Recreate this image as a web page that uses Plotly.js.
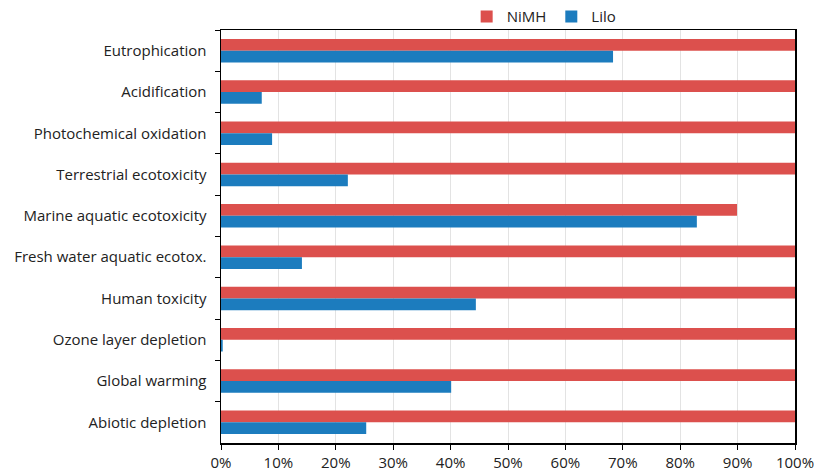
<!DOCTYPE html>
<html>
<head>
<meta charset="utf-8">
<script src="https://cdn.plot.ly/plotly-3.0.1.min.js"></script>
<style>
  html, body { margin: 0; padding: 0; background: #fff; }
  #chart { width: 814px; height: 472px; }
</style>
</head>
<body>
<div id="chart"></div>
<script>
// Impact categories, listed top to bottom
const categories = [
  "Eutrophication",
  "Acidification",
  "Photochemical oxidation",
  "Terrestrial ecotoxicity",
  "Marine aquatic ecotoxicity",
  "Fresh water aquatic ecotox.",
  "Human toxicity",
  "Ozone layer depletion",
  "Global warming",
  "Abiotic depletion"
];

// Relative impact (share of the larger value)
const nimhValues = [1.00, 1.00, 1.00, 1.00, 0.899, 1.00, 1.00, 1.00, 1.00, 1.00];
const liloValues = [0.683, 0.071, 0.089, 0.221, 0.829, 0.141, 0.444, 0.003, 0.401, 0.253];

const xTickValues = [0, 0.1, 0.2, 0.3, 0.4, 0.5, 0.6, 0.7, 0.8, 0.9, 1.0];
const xTickLabels = ["0%", "10%", "20%", "30%", "40%", "50%", "60%", "70%", "80%", "90%", "100%"];

const FONT = "'Open Sans', 'Noto Sans', sans-serif";

const traces = [
  {
    type: "bar", orientation: "h", name: "NiMH",
    x: nimhValues, y: categories,
    marker: { color: "#DC504D" },
    hoverinfo: "none"
  },
  {
    type: "bar", orientation: "h", name: "Lilo",
    x: liloValues, y: categories,
    marker: { color: "#1C7CBE" },
    hoverinfo: "none"
  }
];

const layout = {
  width: 814, height: 472,
  margin: { l: 221, r: 19, t: 30, b: 29, autoexpand: false },
  paper_bgcolor: "#ffffff",
  plot_bgcolor: "#ffffff",
  barmode: "group",
  bargap: 0.43,
  bargroupgap: 0,
  font: { family: FONT, size: 15, color: "#222" },
  showlegend: true,
  legend: {
    orientation: "h",
    x: 0.563, xanchor: "center",
    y: 1.032, yanchor: "middle",
    bgcolor: "rgba(0,0,0,0)",
    font: { family: FONT, size: 15, color: "#222" },
    itemwidth: 30,
    tracegroupgap: 0
  },
  xaxis: {
    range: [0, 1],
    tickvals: xTickValues,
    ticktext: xTickLabels,
    ticklabeloverflow: "allow",
    showgrid: true, gridcolor: "#E3E3E3", gridwidth: 1,
    zeroline: false,
    showline: true, linecolor: "#000", linewidth: 1.5, mirror: true,
    ticks: "outside", ticklen: 5, tickcolor: "#000",
    tickfont: { family: FONT, size: 15, color: "#222" },
    fixedrange: true
  },
  yaxis: {
    type: "category",
    autorange: "reversed",
    tickson: "boundaries",
    ticks: "outside", ticklen: 5, tickcolor: "#000",
    showgrid: false,
    showline: true, linecolor: "#000", linewidth: 1.5, mirror: true,
    tickfont: { family: FONT, size: 15, color: "#222" },
    ticklabelstandoff: 10,
    fixedrange: true
  }
};

Plotly.newPlot("chart", traces, layout, { displayModeBar: false, staticPlot: true });
</script>
</body>
</html>
